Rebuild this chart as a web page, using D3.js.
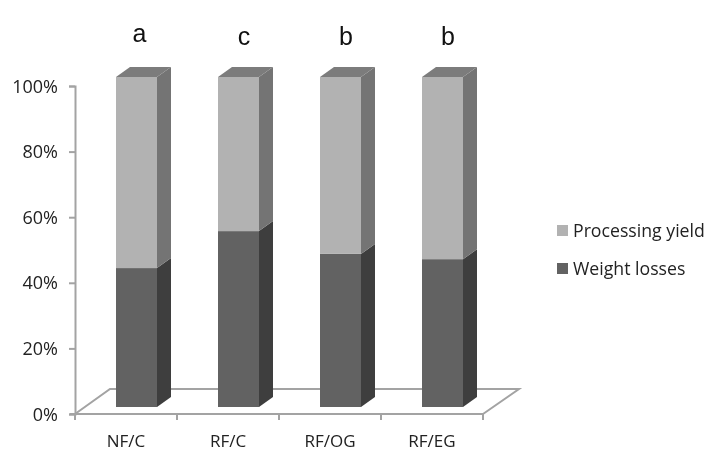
<!DOCTYPE html>
<html>
    <head>
        <style>
            html, body { margin: 0; padding: 0; background: #fff; }
            svg { display: block; }
            .tick-label { font-family: "Open Sans", sans-serif; fill: #222; }
            .letter { font-family: "Liberation Sans", Arial, sans-serif; font-size: 25px; fill: #111; text-anchor: middle; }
            .axis-line { stroke: #a3a3a3; stroke-width: 2; fill: none; }
        </style>
    </head>
    <body>
        <svg width="716" height="469"></svg>
        <script src="https://d3js.org/d3.v7.min.js"></script>
        <script>
        var categories = ["NF/C", "RF/C", "RF/OG", "RF/EG"];
        var letters = ["a", "c", "b", "b"];
        var weightLosses = [42.1, 53.3, 46.4, 44.8];
        var processingYield = [57.9, 46.7, 53.6, 55.2];
        var yTicks = [0, 20, 40, 60, 80, 100];
        var seriesNames = ["Processing yield", "Weight losses"];

        var svg = d3.select("svg");

        // chart frame
        var left = 75, right = 483, bottom = 414, top100 = 86;
        var depthX = 35, depthY = 25;      // floor offset
        var barDepthX = 14, barDepthY = 10; // bar side offset
        var barWidth = 41;

        var x = d3.scaleBand().domain(categories).range([left, right]);
        var y = d3.scaleLinear().domain([0, 100]).range([bottom, top100]);
        // bars stand on the middle of the floor, so their own scale is shifted
        var yBar = d3.scaleLinear().domain([0, 100]).range([407, 77]);

        var colors = {
            weight: { front: "#626262", side: "#3e3e3e" },
            yieldPart: { front: "#b2b2b2", side: "#747474", top: "#7c7c7c" }
        };

        var g = svg.append("g").style("filter", "blur(0.45px)");

        // floor
        g.append("path")
            .attr("class", "axis-line")
            .attr("d", d3.line()([
                [left, bottom], [left + depthX, bottom - depthY],
                [right + depthX + 1, bottom - depthY], [right, bottom]
            ]));

        // Y axis
        var yAxis = g.append("g")
            .attr("transform", "translate(" + left + ",0)")
            .call(d3.axisLeft(y).tickValues(yTicks).tickSize(6).tickPadding(11).tickFormat(function(d) { return d + "%"; }));
        yAxis.select(".domain").attr("stroke", "#a3a3a3").attr("stroke-width", 2);
        yAxis.selectAll(".tick line").attr("stroke", "#a3a3a3").attr("stroke-width", 2);
        yAxis.selectAll("text")
            .attr("class", "tick-label")
            .style("font-size", "18px")
            .attr("dy", "0.34em");

        // X axis, ticks on the band edges
        g.append("path")
            .attr("class", "axis-line")
            .attr("d", d3.line()([[left - 5, bottom], [right, bottom]]));
        var edges = categories.map(function(c) { return x(c); }).concat([right]);
        g.selectAll(".xtick")
            .data(edges)
            .enter().append("line")
            .attr("class", "axis-line xtick")
            .attr("x1", function(d) { return d; })
            .attr("x2", function(d) { return d; })
            .attr("y1", bottom)
            .attr("y2", bottom + 6);
        g.selectAll(".xlabel")
            .data(categories)
            .enter().append("text")
            .attr("class", "tick-label xlabel")
            .attr("x", function(d) { return x(d) + x.bandwidth() / 2; })
            .attr("y", 447)
            .attr("text-anchor", "middle")
            .style("font-size", "17px")
            .text(function(d) { return d; });

        // bars
        var barX = function(c) { return x(c) + 41; };
        var poly = function(pts) { return d3.line()(pts) + "Z"; };

        categories.forEach(function(c, i) {
            var bx = barX(c);
            var y0 = yBar(0);
            var y1 = yBar(weightLosses[i]);
            var y2 = yBar(weightLosses[i] + processingYield[i]);
            var bar = g.append("g");

            // lower segment
            bar.append("path")
                .attr("fill", colors.weight.side)
                .attr("d", poly([[bx + barWidth, y0], [bx + barWidth + barDepthX, y0 - barDepthY],
                    [bx + barWidth + barDepthX, y1 - barDepthY], [bx + barWidth, y1]]));
            bar.append("rect")
                .attr("x", bx).attr("y", y1)
                .attr("width", barWidth).attr("height", y0 - y1)
                .attr("fill", colors.weight.front);

            // upper segment
            bar.append("path")
                .attr("fill", colors.yieldPart.side)
                .attr("d", poly([[bx + barWidth, y1], [bx + barWidth + barDepthX, y1 - barDepthY],
                    [bx + barWidth + barDepthX, y2 - barDepthY], [bx + barWidth, y2]]));
            bar.append("path")
                .attr("fill", colors.yieldPart.top)
                .attr("d", poly([[bx, y2], [bx + barWidth, y2],
                    [bx + barWidth + barDepthX, y2 - barDepthY], [bx + barDepthX, y2 - barDepthY]]));
            bar.append("rect")
                .attr("x", bx).attr("y", y2)
                .attr("width", barWidth).attr("height", y1 - y2)
                .attr("fill", colors.yieldPart.front);

            // significance letter, the first one sits a little higher in the reference
            g.append("text")
                .attr("class", "letter")
                .attr("x", bx + barWidth / 2 + (i === 0 ? 3 : 5.5))
                .attr("y", i === 0 ? 42 : 45)
                .text(letters[i]);
        });

        // legend
        var legendColors = [colors.yieldPart.front, colors.weight.front];
        var legend = g.selectAll(".legend")
            .data(seriesNames)
            .enter().append("g")
            .attr("class", "legend")
            .attr("transform", function(d, i) { return "translate(557," + (225 + i * 38) + ")"; });
        legend.append("rect")
            .attr("width", 11).attr("height", 11)
            .attr("fill", function(d, i) { return legendColors[i]; });
        legend.append("text")
            .attr("class", "tick-label")
            .attr("x", 16)
            .attr("y", 12)
            .style("font-size", "17.7px")
            .text(function(d) { return d; });
        </script>
    </body>
</html>
